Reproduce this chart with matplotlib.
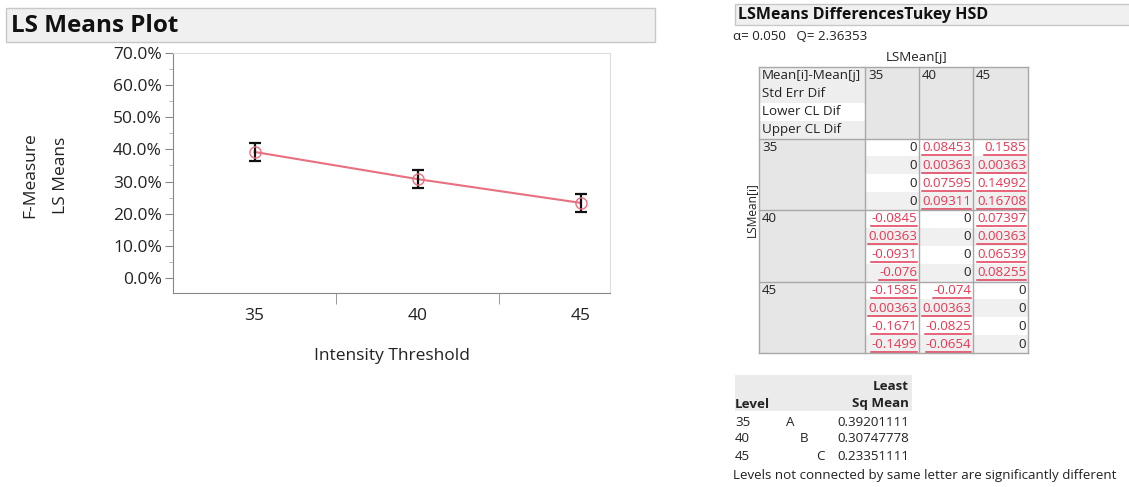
import matplotlib.pyplot as plt
from matplotlib.patches import Rectangle
import numpy as np

plt.rcParams['font.family'] = ['Open Sans', 'Lato', 'DejaVu Sans']

# LS means plot data
levels = ['35', '40', '45']
level_x = [35, 40, 45]
ls_means = [0.39201111, 0.30747778, 0.23351111]
err_half = [0.028, 0.029, 0.028]

# Tukey HSD table
alpha_txt = '0.050'
q_txt = '2.36353'
row_names = ['Mean[i]-Mean[j]', 'Std Err Dif', 'Lower CL Dif', 'Upper CL Dif']
# cells[i][j] = [diff, std err dif, lower CL, upper CL]
cells = [
    [['0', '0', '0', '0'], ['0.08453', '0.00363', '0.07595', '0.09311'], ['0.1585', '0.00363', '0.14992', '0.16708']],
    [['-0.0845', '0.00363', '-0.0931', '-0.076'], ['0', '0', '0', '0'], ['0.07397', '0.00363', '0.06539', '0.08255']],
    [['-0.1585', '0.00363', '-0.1671', '-0.1499'], ['-0.074', '0.00363', '-0.0825', '-0.0654'], ['0', '0', '0', '0']],
]
letters = ['A', 'B', 'C']
mean_txt = ['0.39201111', '0.30747778', '0.23351111']

W, H = 1129, 487
fig = plt.figure(figsize=(W / 100, H / 100), dpi=100)
bg = fig.add_axes([0, 0, 1, 1], zorder=0)
bg.set_xlim(0, W)
bg.set_ylim(H, 0)
bg.axis('off')

red = '#e03a55'
gridc = '#a8a8a8'
tc = '#222222'
fs = 9.6

# ---- left panel title bar
bg.add_patch(Rectangle((6, 8), 649, 34, fc='#f0f0f0', ec='#c8c8c8', lw=1))
bg.text(11, 26, 'LS Means Plot', fontsize=17.5, fontweight='bold', va='center', color='#111111')

# ---- LS means plot
ax = fig.add_axes([173 / W, 1 - 293 / H, (610 - 173) / W, (293 - 53) / H], zorder=2)
ax.plot(level_x, ls_means, color='#e87080', lw=1.5, zorder=2)
ax.errorbar(level_x, ls_means, yerr=err_half, fmt='none', ecolor='#111111',
            elinewidth=1.6, capsize=4.5, capthick=1.6, zorder=3)
ax.plot(level_x, ls_means, 'o', ms=8, mfc='none', mec='#e87080', mew=1, zorder=4)
ax.set_xlim(32.5, 45.9)
ax.set_ylim(-0.047, 0.70)
yt = np.arange(0, 0.71, 0.1)
ax.set_yticks(yt)
ax.set_yticklabels([f'{v * 100:.1f}%' for v in yt])
ax.set_yticks(np.arange(0.05, 0.7, 0.1), minor=True)
ax.set_xticks(level_x)
ax.set_xticklabels(levels)
ax.set_xticks([37.5, 42.5], minor=True)
ax.tick_params(axis='y', which='major', length=6, color='#888888', labelsize=12.5, labelcolor=tc, pad=2)
ax.tick_params(axis='y', which='minor', length=3, color='#aaaaaa')
ax.tick_params(axis='x', which='major', length=0, labelsize=12.5, labelcolor=tc, pad=11)
ax.tick_params(axis='x', which='minor', length=8, color='#888888')
for s in ['left', 'bottom']:
    ax.spines[s].set_color('#888888')
for s in ['top', 'right']:
    ax.spines[s].set_color('#dddddd')
ax.set_xlabel('Intensity Threshold', fontsize=12.5, color=tc, labelpad=17)
bg.text(30, 175, 'F-Measure', rotation=90, fontsize=12.5, ha='center', va='center', color=tc)
bg.text(61, 175, 'LS Means', rotation=90, fontsize=12.5, ha='center', va='center', color=tc)

# ---- right panel title bar
bg.add_patch(Rectangle((735, 4), 400, 21, fc='#f0f0f0', ec='#c8c8c8', lw=1))
bg.text(738, 15, 'LSMeans DifferencesTukey HSD', fontsize=11.5, fontweight='bold', va='center', color='#111111')
bg.text(733, 36, f'\u03b1= {alpha_txt}   Q= {q_txt}', fontsize=fs, va='center', color=tc)
bg.text(917, 58, 'LSMean[j]', fontsize=fs, ha='center', va='center', color=tc)
bg.text(751, 210, 'LSMean[i]', fontsize=fs - 1, rotation=90, ha='center', va='center', color=tc)

col_x = [759, 865, 919, 973, 1028]
top = 67
gh = 71.5
rh = gh / 4

# header block
for k in range(4):
    fc = '#ffffff' if k == 2 else '#eeeeee'
    bg.add_patch(Rectangle((col_x[0], top + k * rh), col_x[1] - col_x[0], rh, fc=fc, ec='none'))
    bg.text(col_x[0] + 3, top + k * rh + rh / 2, row_names[k], fontsize=fs, va='center', color=tc)
for j in range(3):
    bg.add_patch(Rectangle((col_x[j + 1], top), col_x[j + 2] - col_x[j + 1], gh, fc='#e6e6e6', ec='none',
                           zorder=2))
    bg.text(col_x[j + 1] + 3, top + rh / 2, levels[j], fontsize=fs, va='center', color=tc, zorder=3)

# body
red_texts = []
for i in range(3):
    gy = top + (i + 1) * gh
    bg.add_patch(Rectangle((col_x[0], gy), col_x[1] - col_x[0], gh, fc='#e6e6e6', ec='none'))
    bg.text(col_x[0] + 3, gy + rh / 2, levels[i], fontsize=fs, va='center', color=tc)
    for j in range(3):
        for k in range(4):
            fc = '#f0f0f0' if k % 2 == 1 else '#ffffff'
            bg.add_patch(Rectangle((col_x[j + 1], gy + k * rh), col_x[j + 2] - col_x[j + 1], rh, fc=fc, ec='none'))
            c = tc if i == j else red
            t = bg.text(col_x[j + 2] - 2, gy + k * rh + rh / 2, cells[i][j][k], fontsize=fs,
                        ha='right', va='center', color=c)
            if i != j:
                red_texts.append((t, gy + k * rh + rh / 2))

# grid lines
bottom = top + 4 * gh
for x in col_x:
    bg.plot([x, x], [top, bottom], color=gridc, lw=1, zorder=4)
for g in range(5):
    y = top + g * gh
    bg.plot([col_x[0], col_x[-1]], [y, y], color=gridc, lw=1, zorder=4)

# underlines under significant values
fig.canvas.draw()
r = fig.canvas.get_renderer()
for t, yc in red_texts:
    bb = t.get_window_extent(renderer=r)
    bg.plot([bb.x0, bb.x1], [yc + 7.5, yc + 7.5], color=red, lw=1.1)

# connecting letters report
bg.add_patch(Rectangle((735, 375), 177, 36, fc='#ebebeb', ec='none'))
bg.text(909, 387, 'Least', fontsize=fs, fontweight='bold', ha='right', va='center', color=tc)
bg.text(735, 404, 'Level', fontsize=fs, fontweight='bold', va='center', color=tc)
bg.text(909, 404, 'Sq Mean', fontsize=fs, fontweight='bold', ha='right', va='center', color=tc)
letter_x = [790, 804, 820]
for i in range(3):
    y = 422 + i * 17
    bg.text(735, y, levels[i], fontsize=fs, va='center', color=tc)
    bg.text(letter_x[i], y, letters[i], fontsize=fs, ha='center', va='center', color=tc)
    bg.text(909, y, mean_txt[i], fontsize=fs, ha='right', va='center', color=tc)
bg.text(733, 476, 'Levels not connected by same letter are significantly different',
        fontsize=fs, va='center', color=tc)

fig.savefig('out.png', dpi=100)
